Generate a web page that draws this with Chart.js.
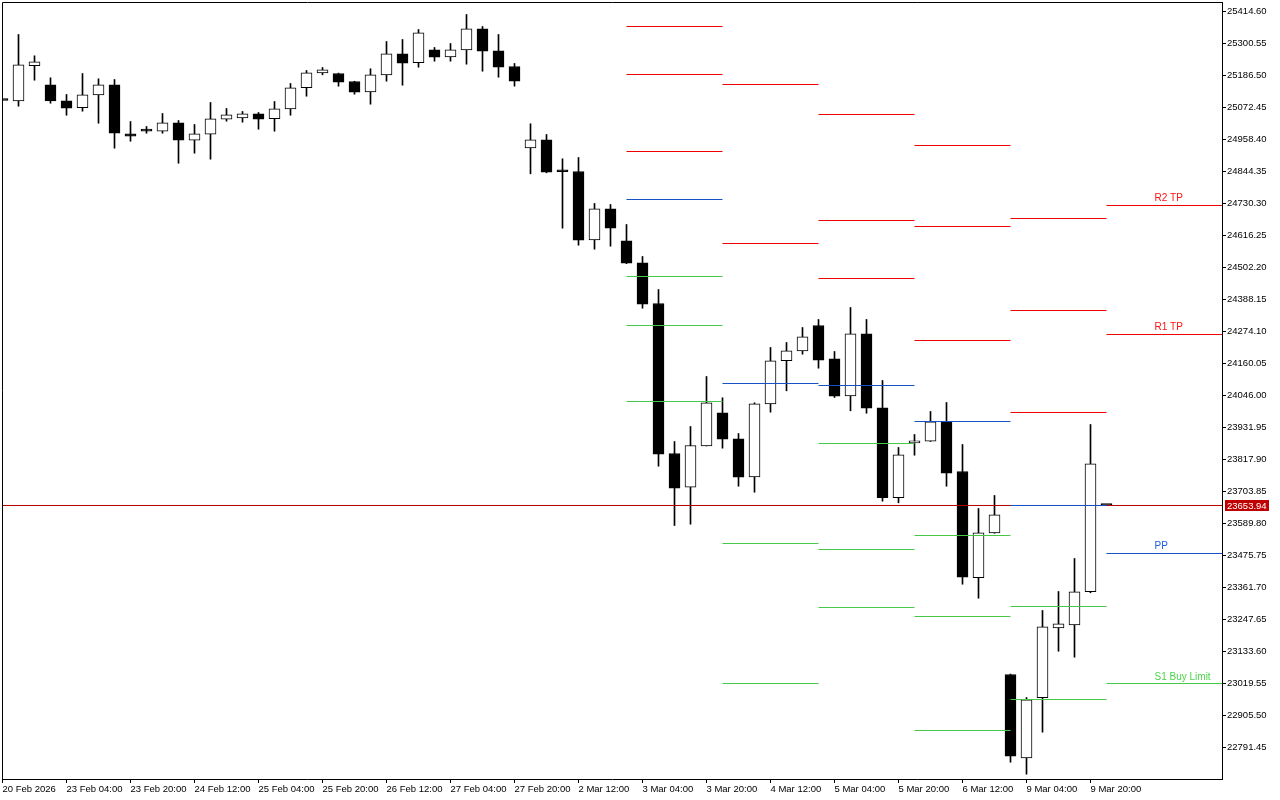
<!DOCTYPE html>
<html>
<head>
<meta charset="utf-8">
<script src="https://cdn.jsdelivr.net/npm/chart.js@4.4.1/dist/chart.umd.min.js"></script>
<style>
html,body{margin:0;padding:0;background:#fff;overflow:hidden;}
#c{display:block;}
</style>
</head>
<body>
<canvas id="c" width="1280" height="800"></canvas>
<script>
// ---- 4H candles (index 0 = 20 Feb 2026, last = 10 Mar 00:00) ----
const opens = [
25097.4,25096.3,25221.1,25153.4,25096.3,25071.4,25117.7,25153.4,24978.7,24994.0,
24988.0,25017.9,24955.9,24977.3,25030.7,25035.7,25050.0,25032.2,25067.8,25142.7,
25196.1,25193.6,25165.1,25128.4,25189.0,25263.8,25231.8,25278.1,25253.1,25278.1,
25352.9,25274.5,25218.6,24928.8,24957.3,24843.3,24844.3,24600.9,24711.4,24597.4,
24518.9,24373.9,23839.3,23719.2,23866.7,23984.3,23891.7,23756.2,24016.4,24169.7,
24205.3,24295.5,24176.8,24044.9,24265.9,24002.1,23681.4,23877.4,23883.1,23952.2,
23775.1,23396.3,23556.6,23051.6,22754.7,22968.6,23218.0,23228.7,23346.4,23653.94];
const highs = [
25097.4,25332.6,25256.7,25178.3,25118.8,25193.6,25174.7,25172.2,25022.5,25004.7,
25051.1,25026.1,25011.9,25090.3,25068.9,25058.2,25054.6,25093.8,25158.0,25204.3,
25215.0,25195.0,25166.0,25210.4,25307.7,25314.8,25350.4,25286.3,25300.5,25403.9,
25361.1,25332.6,25229.3,25014.4,24976.2,24889.6,24894.2,24730.3,24726.7,24655.4,
24541.4,24423.8,23882.0,23935.5,24113.7,24037.8,23910.5,24020.0,24217.1,24234.9,
24288.3,24316.9,24202.8,24359.6,24316.9,24099.4,23860.7,23907.0,23989.0,24021.0,
23871.3,23643.2,23689.6,23053.0,22969.6,23279.7,23347.4,23465.0,23942.6,23653.94];
const lows = [
25097.4,25077.1,25169.7,25087.8,25045.0,25059.3,25016.5,24927.4,24952.3,24980.8,
24980.8,24873.9,24909.6,24888.2,25023.6,25020.1,24995.1,24988.0,25045.0,25112.7,
25189.0,25148.4,25119.8,25084.2,25166.2,25151.9,25216.1,25237.5,25237.5,25226.8,
25201.8,25180.4,25148.4,24836.1,24839.7,24642.3,24581.7,24567.4,24578.1,24516.0,
24357.1,23794.0,23582.7,23587.3,23866.0,23858.2,23722.7,23701.3,23986.5,24062.7,
24193.2,24143.3,24038.9,23991.5,23982.9,23669.2,23663.6,23833.2,23882.0,23722.7,
23373.4,23323.5,23555.0,22739.0,22696.3,22846.0,23134.6,23113.3,23342.8,23653.94];
const closes = [
25097.4,25224.6,25235.3,25096.3,25070.0,25117.7,25153.4,24980.8,24970.2,24988.0,
25017.9,24955.9,24978.7,25032.2,25046.4,25050.0,25030.7,25067.8,25142.7,25196.1,
25206.8,25162.6,25127.0,25189.0,25263.8,25230.3,25338.7,25251.7,25278.1,25352.9,
25273.1,25216.1,25166.2,24957.3,24841.8,24843.3,24599.5,24711.4,24642.3,24517.5,
24371.4,23836.8,23715.6,23867.8,24020.0,23890.2,23754.8,24016.4,24169.7,24205.3,
24255.2,24171.8,24043.5,24265.9,24000.7,23681.4,23834.6,23884.5,23952.2,23769.1,
23398.4,23556.6,23620.8,22760.4,22961.4,23221.6,23232.3,23346.4,23802.6,23653.94];

const currentPrice = 23653.94;

// ---- daily pivot levels (first bar index of each day: 3,4,5,6,9,10 Mar) ----
const dayStart = [39, 45, 51, 57, 63, 69];
const levelR3 = [25361.1, null, 25047.5, 24937.0, 24676.8, null];
const levelR2 = [25190.1, 25154.4, 24669.7, 24648.3, 24348.9, 24723.2];
const levelR1 = [24915.6, 24587.7, 24463.0, 24242.0, 23985.4, 24263.4];
const levelPP = [24744.5, 24088.8, 24081.6, 23953.3, 23653.9, 23482.9];
const levelS1 = [24470.1, 23518.5, 23874.9, 23547.0, 23294.0, 23019.5];
const levelS2 = [24295.5, 23019.5, 23497.1, 23258.3, 22962.5, null];
const levelS3 = [24024.6, null, 23290.4, 22852.0, null, null];

const tagTexts  = ['R2 TP', 'R1 TP', 'PP', 'S1 Buy Limit'];
const tagLevels = [levelR2[5], levelR1[5], levelPP[5], levelS1[5]];
const tagColors = ['#ff1010', '#ff1010', '#1e5ae0', '#4cd44c'];
const tagX = 72;

// ---- axes ----
const xTickIdx = [0,4,8,12,16,20,24,28,32,36,40,44,48,52,56,60,64,68];
const xTickLabels = ['20 Feb 2026','23 Feb 04:00','23 Feb 20:00','24 Feb 12:00','25 Feb 04:00',
  '25 Feb 20:00','26 Feb 12:00','27 Feb 04:00','27 Feb 20:00','2 Mar 12:00','3 Mar 04:00',
  '3 Mar 20:00','4 Mar 12:00','5 Mar 04:00','5 Mar 20:00','6 Mar 12:00','9 Mar 04:00','9 Mar 20:00'];
const yTickVals = [25414.60,25300.55,25186.50,25072.45,24958.40,24844.35,24730.30,24616.25,
  24502.20,24388.15,24274.10,24160.05,24046.00,23931.95,23817.90,23703.85,23589.80,23475.75,
  23361.70,23247.65,23133.60,23019.55,22905.50,22791.45];

const X_MIN = -0.03125, X_MAX = 76.21875;
const Y_MIN = 22679.15, Y_MAX = 25448.46;

const RED = '#f00000', BLUE = '#1450c8', GREEN = '#46c846';

// build datasets from the arrays
const bodyData = opens.map((o, i) => ({x: i, y: [o, closes[i]]}));
const wickData = lows.map((l, i) => ({x: i, y: [l, highs[i]]}));

function segs(levels) {
  const pts = [];
  levels.forEach((v, d) => {
    if (v === null) return;
    const s = dayStart[d];
    const e = d + 1 < dayStart.length ? dayStart[d + 1] : X_MAX;
    pts.push({x: s, y: v}, {x: e, y: v}, {x: e, y: null});
  });
  return pts;
}
function lineDs(data, color) {
  return {type: 'line', data, borderColor: color, borderWidth: 1, pointRadius: 0,
    spanGaps: false, fill: false, tension: 0, order: 0};
}
const redData = [].concat(segs(levelR3), segs(levelR2), segs(levelR1));
const greenData = [].concat(segs(levelS1), segs(levelS2), segs(levelS3));
const blueData = segs(levelPP);

const fontSpec = {family: '"Liberation Sans", Arial, sans-serif', size: 9.5};

const overlay = {
  id: 'overlay',
  afterDatasetsDraw(chart) {
    const {ctx, chartArea: a, scales: {x, y}} = chart;
    ctx.save();
    ctx.font = '10px "Liberation Sans", Arial, sans-serif';
    ctx.textAlign = 'left';
    ctx.textBaseline = 'alphabetic';
    tagTexts.forEach((t, k) => {
      const py = y.getPixelForValue(tagLevels[k]);
      ctx.fillStyle = tagColors[k];
      ctx.fillText(t, x.getPixelForValue(tagX), py - 4);
    });
    ctx.strokeStyle = '#000';
    ctx.lineWidth = 1;
    ctx.beginPath();
    ctx.moveTo(a.left + 0.5, a.bottom);
    ctx.lineTo(a.left + 0.5, a.top + 0.5);
    ctx.lineTo(a.right, a.top + 0.5);
    ctx.stroke();
    ctx.restore();
  },
  afterDraw(chart) {
    const {ctx, chartArea: a, scales: {y}} = chart;
    const py = y.getPixelForValue(currentPrice);
    ctx.save();
    ctx.fillStyle = '#c00000';
    ctx.fillRect(a.right + 3, Math.round(py) - 5, 44, 11);
    ctx.fillStyle = '#fff';
    ctx.font = '9.5px "Liberation Sans", Arial, sans-serif';
    ctx.textAlign = 'left';
    ctx.textBaseline = 'middle';
    ctx.fillText(currentPrice.toFixed(2), a.right + 5, py + 0.5);
    ctx.restore();
  }
};

new Chart(document.getElementById('c'), {
  type: 'bar',
  data: {
    datasets: [
      lineDs(redData, RED),
      lineDs(blueData, BLUE),
      lineDs(greenData, GREEN),
      lineDs([{x: X_MIN, y: currentPrice}, {x: X_MAX, y: currentPrice}], '#b40000'),
      {type: 'bar', data: bodyData, grouped: false, barThickness: 11, minBarLength: 2,
        borderWidth: 1, borderColor: '#000', borderSkipped: false,
        backgroundColor: (c) => closes[c.dataIndex] > opens[c.dataIndex] ? '#fff' : '#000', order: 1},
      {type: 'bar', data: wickData, grouped: false, barThickness: 1, borderWidth: 0,
        backgroundColor: '#000', order: 2}
    ]
  },
  options: {
    responsive: false,
    animation: false,
    events: [],
    devicePixelRatio: 1,
    layout: {padding: {left: 2, top: 2, right: 0, bottom: 0}},
    plugins: {legend: {display: false}, tooltip: {enabled: false}},
    scales: {
      x: {
        type: 'linear', position: 'bottom', min: X_MIN, max: X_MAX, offset: false,
        afterBuildTicks: (s) => { s.ticks = xTickIdx.map(v => ({value: v})); },
        afterFit: (s) => { s.height = 21; s.paddingLeft = 0; s.paddingRight = 0; },
        ticks: {autoSkip: false, maxRotation: 0, minRotation: 0, align: 'start', padding: 1,
          color: '#000', font: fontSpec, callback: (v, i) => xTickLabels[i]},
        grid: {offset: false, drawOnChartArea: false, drawTicks: true, tickLength: 4,
          color: '#000', tickColor: '#000', lineWidth: 1},
        border: {display: true, color: '#000', width: 1}
      },
      y: {
        type: 'linear', position: 'right', min: Y_MIN, max: Y_MAX,
        afterBuildTicks: (s) => { s.ticks = yTickVals.map(v => ({value: v})); },
        afterFit: (s) => { s.width = 58; s.paddingTop = 0; s.paddingBottom = 0; },
        ticks: {padding: 1, color: '#000', font: fontSpec, callback: (v) => Number(v).toFixed(2)},
        grid: {drawOnChartArea: false, drawTicks: true, tickLength: 4,
          color: '#000', tickColor: '#000', lineWidth: 1},
        border: {display: true, color: '#000', width: 1}
      }
    }
  },
  plugins: [overlay]
});
</script>
</body>
</html>
